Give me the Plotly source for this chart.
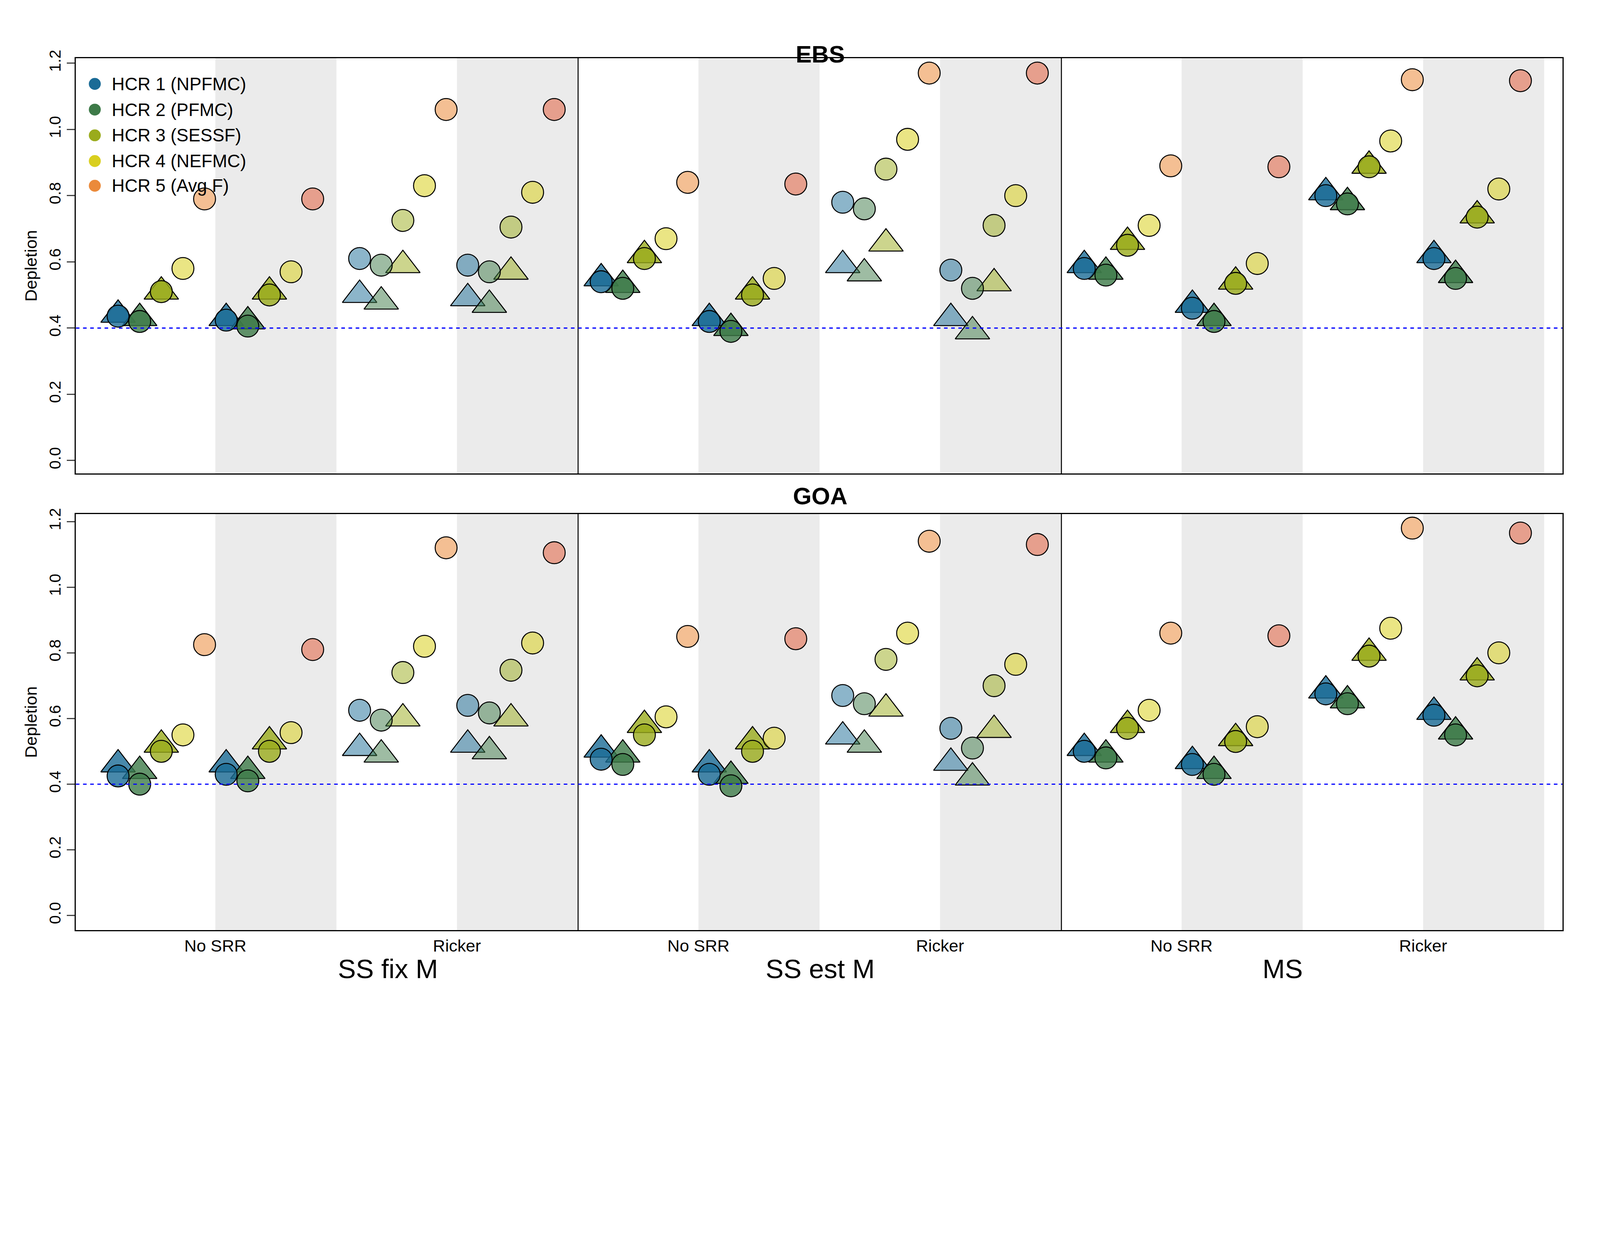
import plotly.graph_objects as go

W, H = 4000, 2667
S = W / 1568.0
models = ["SS fix M", "SS est M", "MS"]
srrs = ["No SRR", "Ricker"]
hcr_names = ["HCR 1 (NPFMC)", "HCR 2 (PFMC)", "HCR 3 (SESSF)", "HCR 4 (NEFMC)", "HCR 5 (Avg F)"]
hcr_colors = ["#1a6b96", "#3d7a48", "#9aab1c", "#d9cf1f", "#eb8a3a"]

# 12 halves: model x SRR x (white, grey); 5 HCR circle values each
ebs_circ = [
    [0.436, 0.42, 0.51, 0.58, 0.79], [0.424, 0.406, 0.50, 0.57, 0.79],
    [0.61, 0.59, 0.725, 0.83, 1.06], [0.59, 0.57, 0.705, 0.81, 1.06],
    [0.54, 0.52, 0.61, 0.67, 0.84], [0.42, 0.39, 0.50, 0.55, 0.835],
    [0.78, 0.76, 0.88, 0.97, 1.17], [0.575, 0.52, 0.71, 0.80, 1.17],
    [0.58, 0.56, 0.65, 0.71, 0.89], [0.46, 0.42, 0.535, 0.595, 0.887],
    [0.80, 0.775, 0.887, 0.965, 1.15], [0.61, 0.55, 0.735, 0.82, 1.147],
]
ebs_tri = [
    [0.44, 0.43, 0.51], [0.43, 0.42, 0.51],
    [0.50, 0.48, 0.59], [0.49, 0.47, 0.57],
    [0.55, 0.53, 0.62], [0.43, 0.40, 0.51],
    [0.59, 0.565, 0.655], [0.43, 0.39, 0.535],
    [0.59, 0.57, 0.66], [0.47, 0.43, 0.54],
    [0.81, 0.78, 0.89], [0.62, 0.56, 0.74],
]
goa_circ = [
    [0.425, 0.40, 0.50, 0.55, 0.825], [0.43, 0.41, 0.50, 0.557, 0.81],
    [0.625, 0.595, 0.74, 0.82, 1.12], [0.64, 0.617, 0.747, 0.83, 1.105],
    [0.476, 0.46, 0.55, 0.605, 0.85], [0.43, 0.395, 0.50, 0.54, 0.843],
    [0.67, 0.645, 0.78, 0.86, 1.14], [0.57, 0.51, 0.70, 0.765, 1.13],
    [0.50, 0.48, 0.57, 0.625, 0.86], [0.46, 0.43, 0.53, 0.575, 0.852],
    [0.675, 0.645, 0.79, 0.875, 1.18], [0.61, 0.55, 0.73, 0.80, 1.165],
]
goa_tri = [
    [0.46, 0.44, 0.52], [0.46, 0.44, 0.53],
    [0.51, 0.49, 0.60], [0.52, 0.50, 0.60],
    [0.505, 0.49, 0.58], [0.46, 0.425, 0.53],
    [0.545, 0.52, 0.63], [0.465, 0.42, 0.565],
    [0.51, 0.49, 0.58], [0.47, 0.44, 0.54],
    [0.685, 0.655, 0.80], [0.62, 0.56, 0.74],
]

centers = [213 + 242.4 * i for i in range(6)]
slot = 21.7

def rgba(h, a):
    h = h.lstrip("#")
    return "rgba(%d,%d,%d,%.2f)" % (int(h[0:2], 16), int(h[2:4], 16), int(h[4:6], 16), a)

fig = go.Figure()
panels = [("EBS", ebs_circ, ebs_tri, "y"), ("GOA", goa_circ, goa_tri, "y2")]
for pname, circ, tri, yax in panels:
    for layer in ["tri", "circ"]:
        for h in range(12):
            g = h // 2
            side = h % 2
            model = g // 2
            ricker = g % 2 == 1
            xs0 = [centers[g] + slot * (k - 4.5 + 5 * side) for k in range(5)]
            vals = tri[h] if layer == "tri" else circ[h]
            for k, v in enumerate(vals):
                a = 0.8
                if ricker and model < 2:
                    a = 0.5
                if k >= 3:
                    a = 0.55
                col = hcr_colors[k]
                if k == 4 and side == 1:
                    col = "#e2603f"
                fig.add_trace(go.Scatter(
                    x=[xs0[k]], y=[v], yaxis=yax, xaxis="x" if yax == "y" else "x2",
                    mode="markers", showlegend=False, hoverinfo="skip",
                    marker=dict(symbol="triangle-up" if layer == "tri" else "circle",
                                size=(30 if layer == "tri" else 22) * S,
                                color=rgba(col, a),
                                line=dict(color="black", width=1 * S))))

shapes = []
for yref, ymin, ymax in [("y", -0.039, 1.215), ("y2", -0.045, 1.223)]:
    xr = "x" if yref == "y" else "x2"
    for c in centers:
        shapes.append(dict(type="rect", xref=xr, yref=yref, x0=c, x1=c + 121.5,
                           y0=ymin, y1=ymax, fillcolor="#ebebeb", line_width=0, layer="below"))
    for xv in [577, 1062]:
        shapes.append(dict(type="line", xref=xr, yref=yref, x0=xv, x1=xv, y0=ymin, y1=ymax,
                           line=dict(color="black", width=1 * S)))
    shapes.append(dict(type="line", xref=xr, yref=yref, x0=73, x1=1565, y0=0.4, y1=0.4,
                       line=dict(color="blue", width=1.2 * S, dash="dash")))

annotations = []
leg_y = [73, 99, 125, 151, 176]
for k in range(5):
    yp = 1 - leg_y[k] / 1045
    shapes.append(dict(type="circle", xref="paper", yref="paper",
                       x0=(92 - 6) / 1568, x1=(92 + 6) / 1568,
                       y0=yp - 6 / 1045, y1=yp + 6 / 1045,
                       fillcolor=hcr_colors[k], line_width=0))
    annotations.append(dict(text=hcr_names[k], xref="paper", yref="paper", x=108 / 1568, y=yp,
                            xanchor="left", yanchor="middle", showarrow=False,
                            font=dict(size=18 * S, color="black")))
for t, yy in [("<b>EBS</b>", 1 - 29 / 1045), ("<b>GOA</b>", 1 - 490 / 1045)]:
    annotations.append(dict(text=t, xref="paper", yref="paper", x=820 / 1568, y=yy,
                            showarrow=False, font=dict(size=24 * S, color="black")))
for i, m in enumerate(models):
    annotations.append(dict(text=m, xref="paper", yref="paper", x=(335 + 485 * i) / 1568,
                            y=1 - 984 / 1045, showarrow=False, font=dict(size=27 * S, color="black")))

axcommon = dict(showline=True, linecolor="black", linewidth=1 * S, mirror=True,
                showgrid=False, zeroline=False)
yaxcommon = dict(axcommon, tickvals=[0, 0.2, 0.4, 0.6, 0.8, 1.0, 1.2],
                 ticktext=["0.0", "0.2", "0.4", "0.6", "0.8", "1.0", "1.2"],
                 tickangle=-90, ticks="outside", ticklen=8 * S, tickwidth=1 * S,
                 tickfont=dict(size=16 * S, color="black"),
                 title=dict(text="Depletion", font=dict(size=17 * S, color="black"), standoff=4 * S))

fig.update_layout(
    width=W, height=H, plot_bgcolor="white", paper_bgcolor="white",
    margin=dict(l=0, r=0, t=0, b=0),
    font=dict(family="Liberation Sans, Arial", color="black"),
    xaxis=dict(axcommon, domain=[73 / 1568, 1565 / 1568], range=[73, 1565], anchor="y",
               showticklabels=False, ticks=""),
    xaxis2=dict(axcommon, domain=[73 / 1568, 1565 / 1568], range=[73, 1565], anchor="y2",
                tickvals=centers, ticktext=srrs * 3, ticks="", ticklen=0,
                tickfont=dict(size=17 * S, color="black")),
    yaxis=dict(yaxcommon, domain=[1 - 467 / 1045, 1 - 47 / 1045], range=[-0.039, 1.215], anchor="x"),
    yaxis2=dict(yaxcommon, domain=[1 - 929 / 1045, 1 - 508 / 1045], range=[-0.045, 1.223], anchor="x2"),
    shapes=shapes, annotations=annotations,
)
fig.write_html("out.html")
